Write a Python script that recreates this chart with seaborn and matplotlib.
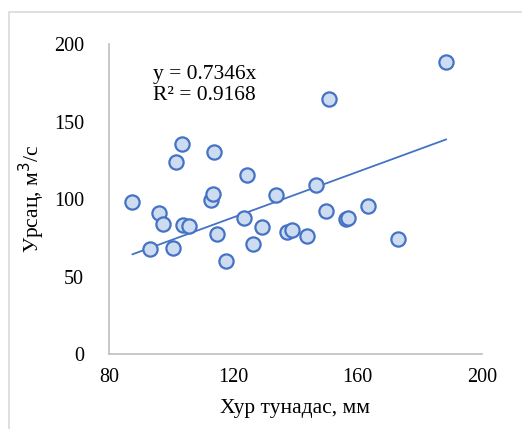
import matplotlib
matplotlib.use("Agg")
import matplotlib.pyplot as plt
import seaborn as sns
import numpy as np
import pandas as pd
from matplotlib.patches import Rectangle

# Data
precip = [87.5, 93.1, 96.1, 97.5, 100.5, 101.4, 103.5, 103.9, 105.8, 112.8,
          113.6, 113.8, 114.8, 117.5, 123.4, 124.4, 126.3, 129.3, 133.8, 137.2,
          139.0, 143.6, 146.6, 149.8, 150.8, 156.1, 157.0, 163.2, 172.9, 188.5]
flow = [98.0, 67.7, 91.2, 83.9, 68.2, 124.1, 135.7, 83.4, 82.4, 99.4,
        103.2, 130.5, 77.4, 60.2, 87.5, 115.5, 71.0, 82.1, 102.6, 78.5,
        80.0, 76.2, 109.0, 92.0, 164.3, 87.1, 87.6, 95.6, 74.4, 188.6]
slope = 0.7346
r2 = 0.9168
x_ticks = [80, 120, 160, 200]
y_ticks = [0, 50, 100, 150, 200]

sns.set_theme(style="white")
plt.rcParams['font.family'] = ['Liberation Serif', 'DejaVu Serif']

df = pd.DataFrame({"x": precip, "y": flow})

fig = plt.figure(figsize=(5.22, 4.29), dpi=100)
ax = fig.add_axes([109/522, 1-354/429, (482-109)/522, (354-44)/429])

blue = "#4472C4"
xs = np.array([min(precip), max(precip)])
sns.lineplot(x=xs, y=slope*xs, ax=ax, color=blue, linewidth=1.3, zorder=2)
sns.scatterplot(data=df, x="x", y="y", ax=ax, s=105, color="#cddcf1",
                edgecolor=blue, linewidth=1.6, zorder=3)

ax.set_xlim(80, 200)
ax.set_ylim(0, 200)
ax.set_xticks(x_ticks)
ax.set_yticks(y_ticks)
ax.tick_params(axis='both', length=0, labelsize=14.5, colors='black', pad=10)
ax.tick_params(axis='y', pad=18)
for s in ['top', 'right']:
    ax.spines[s].set_visible(False)
for s in ['left', 'bottom']:
    ax.spines[s].set_color('#bfbfbf')
    ax.spines[s].set_linewidth(1.2)

ax.set_xlabel("Хур тунадас, мм", fontsize=15.5, color='black', labelpad=9)
ax.set_ylabel("Урсац, м$^3$/с", fontsize=15.5, color='black', labelpad=5)

ax.text((153-109)/373, (354-65)/310, f"y = {slope}x\nR² = {r2}", transform=ax.transAxes,
        fontsize=15.5, va='top', ha='left', color='black', linespacing=1.15)

fig.patches.append(Rectangle((8.5/522, -0.05), 1.2, 1-11.5/429+0.05,
                             transform=fig.transFigure, fill=False,
                             edgecolor='#d9d9d9', linewidth=1.2))

fig.savefig("out.png", dpi=100)
